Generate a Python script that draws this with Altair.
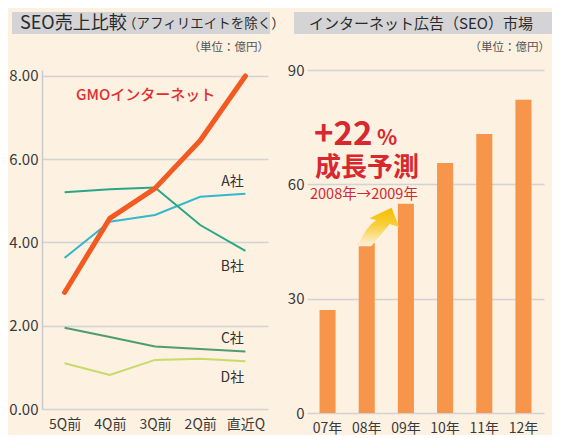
import altair as alt
import pandas as pd

# ---- data ----
quarters = ["5Q前", "4Q前", "3Q前", "2Q前", "直近Q"]
gmo = [2.80, 4.58, 5.30, 6.45, 8.00]
comp_a = [3.63, 4.50, 4.66, 5.10, 5.17]
comp_b = [5.21, 5.28, 5.32, 4.42, 3.80]
comp_c = [1.95, 1.73, 1.50, 1.44, 1.38]
comp_d = [1.10, 0.82, 1.18, 1.21, 1.15]
companies = ["A社", "B社", "C社", "D社"]

years = ["07年", "08年", "09年", "10年", "11年", "12年"]
market = [27.0, 44.6, 54.9, 65.6, 73.2, 82.2]

FONT = "Noto Sans CJK JP"
BG = "#FDF1E2"
GRID = "#D4D2D2"
RED = "#D8282F"
LABEL = "#3a3a3a"

rows = []
for name, vals in zip(companies, [comp_a, comp_b, comp_c, comp_d]):
    for q, v in zip(quarters, vals):
        rows.append({"company": name, "quarter": q, "value": v})
others_df = pd.DataFrame(rows)
gmo_df = pd.DataFrame({"quarter": quarters, "value": gmo})
last_df = pd.DataFrame({"company": companies, "quarter": [quarters[-1]] * 4,
                        "value": [comp_a[-1], comp_b[-1], comp_c[-1], comp_d[-1]]})
bar_df = pd.DataFrame({"year": years, "value": market})
one = pd.DataFrame({"k": [0]})

W1, H1 = 226, 339
W2, H2 = 237, 343

x_left = alt.X("quarter:N", sort=quarters,
               scale=alt.Scale(type="point", padding=0.5),
               axis=alt.Axis(title=None, labelAngle=0, domain=False, ticks=False,
                             labelPadding=8, labelFontSize=14, grid=False))
y_left = alt.Y("value:Q", scale=alt.Scale(domain=[0, 8.144], nice=False, zero=True),
               axis=alt.Axis(title=None, values=[0, 2, 4, 6, 8], format=".2f", ticks=False,
                             domain=True, domainColor="#C9C8CC", domainWidth=1.5,
                             grid=True, gridColor=GRID, gridWidth=1.6,
                             labelPadding=4, labelFontSize=15))

others = alt.Chart(others_df).mark_line(strokeWidth=2).encode(
    x=x_left, y=y_left,
    color=alt.Color("company:N", legend=None,
                    scale=alt.Scale(domain=companies,
                                    range=["#35B8CC", "#2AA786", "#4E9D6C", "#C6DB68"])),
)
gmo_line = alt.Chart(gmo_df).mark_line(strokeWidth=5, color="#F25A22", strokeCap="round",
                                       strokeJoin="round").encode(x=x_left, y=y_left)

label_layers = []
for name, dy in zip(companies, [-12, 16, -13, 17]):
    label_layers.append(
        alt.Chart(last_df[last_df.company == name]).mark_text(
            fontSize=14, color="#333333", dx=-13, dy=dy, align="center", baseline="middle"
        ).encode(x=x_left, y=y_left, text="company:N")
    )

rect_l = alt.Chart(one).mark_rect(color="#D4D4D6").encode(
    x=alt.value(-30), x2=alt.value(228), y=alt.value(-58), y2=alt.value(-36))
t1 = alt.Chart(one).mark_text(text="SEO売上比較", fontSize=18, align="left",
                              baseline="middle", color="#2a2a2a").encode(
    x=alt.value(-22), y=alt.value(-46.5))
t2 = alt.Chart(one).mark_text(text="（アフィリエイトを除く）", fontSize=13.5, align="left",
                              baseline="middle", color="#2a2a2a").encode(
    x=alt.value(81), y=alt.value(-46.5))
u1 = alt.Chart(one).mark_text(text="（単位：億円）", fontSize=11.5, align="right",
                              baseline="middle", color="#555555").encode(
    x=alt.value(227), y=alt.value(-22))
gmo_lab = alt.Chart(one).mark_text(text="GMOインターネット", fontSize=15, fontWeight=500,
                                   align="left", baseline="middle", color="#E0302E").encode(
    x=alt.value(34), y=alt.value(25))

left = alt.layer(rect_l, t1, t2, u1, others, gmo_line, gmo_lab, *label_layers).properties(
    width=W1, height=H1)

# ---- right chart ----
bars = alt.Chart(bar_df).mark_bar(color="#F7964A").encode(
    x=alt.X("year:N", sort=years,
            scale=alt.Scale(paddingInner=0.59, paddingOuter=0.32),
            axis=alt.Axis(title=None, labelAngle=0, domain=False, ticks=False,
                          labelPadding=8, labelFontSize=14)),
    y=alt.Y("value:Q", scale=alt.Scale(domain=[0, 90], nice=False),
            axis=alt.Axis(title=None, values=[0, 30, 60, 90], ticks=False, domain=False,
                          grid=True, gridColor=GRID, gridWidth=1.6,
                          labelPadding=3, labelFontSize=15)),
)
rect_r = alt.Chart(one).mark_rect(color="#D4D4D6").encode(
    x=alt.value(-13), x2=alt.value(245), y=alt.value(-58), y2=alt.value(-36))
t3 = alt.Chart(one).mark_text(text="インターネット広告（SEO）市場", fontSize=15, align="center",
                              baseline="middle", color="#2a2a2a").encode(
    x=alt.value(114), y=alt.value(-46.5))
u2 = alt.Chart(one).mark_text(text="（単位：億円）", fontSize=11.5, align="right",
                              baseline="middle", color="#555555").encode(
    x=alt.value(243), y=alt.value(-22))
p1 = alt.Chart(one).mark_text(text="+22", fontSize=33, fontWeight="bold", align="left",
                              baseline="alphabetic", color=RED).encode(
    x=alt.value(7), y=alt.value(75))
p2 = alt.Chart(one).mark_text(text="%", fontSize=21, fontWeight="bold", align="left",
                              baseline="alphabetic", color=RED).encode(
    x=alt.value(70), y=alt.value(75))
p3 = alt.Chart(one).mark_text(text="成長予測", fontSize=26, fontWeight="bold", align="left",
                              baseline="middle", color=RED).encode(
    x=alt.value(8), y=alt.value(98))
p4 = alt.Chart(one).mark_text(text="2008年→2009年", fontSize=14.5, align="left",
                              baseline="middle", color=RED).encode(
    x=alt.value(3), y=alt.value(125))

arrow_path = ("M -0.95 0.91 Q -0.6 0.0 -0.09 -0.32 L -0.41 -0.41 L 0.64 -0.91 "
              "L 1.0 0.0 L 0.55 -0.14 Q 0.15 0.35 -0.32 0.91 Z")
arrow = alt.Chart(one).mark_point(
    shape=arrow_path, size=1800, filled=True, opacity=1, strokeWidth=0,
    fill=alt.Gradient(gradient="linear", x1=0, x2=0, y1=0, y2=1,
                      stops=[alt.GradientStop(offset=0, color="#F6BC00"),
                             alt.GradientStop(offset=0.45, color="#F8CF3A"),
                             alt.GradientStop(offset=1, color="#FDF1E2")]),
).encode(x=alt.value(71), y=alt.value(157))

right = alt.layer(rect_r, t3, u2, bars, arrow, p1, p2, p3, p4).properties(width=W2, height=H2)

chart = alt.hconcat(left, right, spacing=39, bounds="flush").properties(
    background=BG, padding={"left": 0, "top": 4, "right": 0, "bottom": 0}
).configure_view(strokeWidth=0).configure_axis(
    labelFont=FONT, labelColor=LABEL
).configure_text(font=FONT)

chart.save("out.html", embed_options={"renderer": "svg", "actions": False})
